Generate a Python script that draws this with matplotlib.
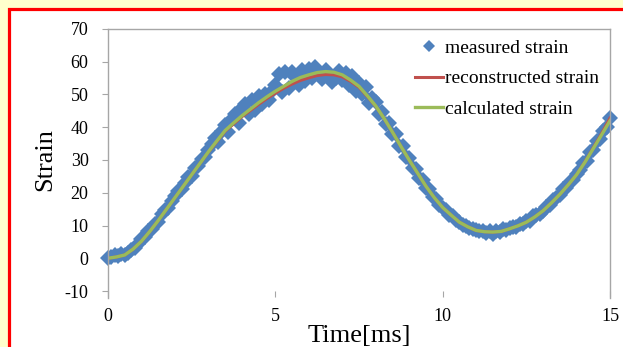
import matplotlib.pyplot as plt
from matplotlib.lines import Line2D
from matplotlib.patches import Rectangle

# 测量应变 (每 0.1 ms 一个点, 从图上读取)
measured_t = [i / 10 for i in range(151)]
measured_strain = [
    0.2, 0.5, 1.0, 0.8, 1.3, 1.0, 1.6, 2.4, 3.2, 4.4,
    5.8, 6.4, 8.2, 9.0, 10.6, 11.2, 13.4, 14.6, 15.4, 17.6,
    18.9, 20.6, 21.0, 22.9, 24.8, 25.2, 27.6, 28.1, 30.4, 31.0,
    33.2, 34.8, 36.8, 35.6, 38.9, 40.8, 38.6, 42.4, 44.0, 41.2,
    45.8, 47.0, 44.0, 48.4, 45.2, 49.6, 47.0, 50.2, 48.3, 51.0,
    53.0, 56.4, 50.8, 57.0, 52.0, 56.8, 55.2, 53.0, 57.6, 54.2,
    57.8, 55.0, 58.4, 56.0, 54.8, 57.6, 55.2, 53.8, 55.0, 57.2,
    54.4, 56.6, 52.8, 55.6, 51.0, 53.6, 50.0, 52.4, 47.4, 48.8,
    47.8, 44.0, 44.6, 41.0, 41.4, 38.0, 37.8, 34.2, 34.4, 31.0,
    30.6, 27.6, 27.4, 24.4, 24.0, 21.6, 21.0, 18.6, 18.0, 16.2,
    15.2, 14.8, 13.2, 12.9, 11.6, 11.2, 10.2, 10.0, 9.1, 9.0,
    8.6, 8.2, 8.4, 7.8, 8.2, 7.4, 8.2, 8.0, 8.8, 8.6,
    9.2, 9.6, 9.4, 10.4, 10.6, 11.4, 11.4, 12.8, 13.2, 13.4,
    14.4, 15.8, 16.2, 17.8, 18.4, 19.2, 21.0, 21.6, 23.4, 24.0,
    25.8, 26.8, 29.0, 29.8, 32.4, 33.2, 35.8, 36.4, 39.0, 40.2,
    42.8,
]

# 计算应变和重构应变 (每 0.25 ms 一个点)
curve_t = [i / 4 for i in range(61)]
calculated_strain = [
    0.0, 0.4, 1.0, 2.8, 5.2, 8.2, 11.5, 15.0,
    18.5, 22.0, 25.5, 29.0, 32.5, 35.8, 39.0, 41.3,
    43.5, 45.5, 47.5, 49.3, 51.0, 52.5, 54.0, 55.2,
    56.0, 56.7, 57.0, 56.8, 56.0, 54.4, 52.5, 49.6,
    46.5, 42.7, 38.5, 34.2, 30.0, 26.0, 22.0, 18.5,
    15.5, 13.2, 11.0, 9.6, 8.5, 8.1, 8.0, 8.2,
    9.0, 9.9, 11.0, 12.6, 14.5, 16.9, 19.5, 22.4,
    25.5, 29.3, 33.5, 37.7, 42.0,
]
reconstructed_strain = [
    0.0, 0.4, 1.0, 2.8, 5.2, 8.2, 11.5, 15.0,
    18.5, 22.0, 25.5, 29.0, 32.4, 35.6, 38.8, 41.0,
    43.2, 45.1, 47.0, 48.8, 50.4, 51.9, 53.2, 54.3,
    55.1, 55.8, 56.1, 56.0, 55.4, 54.0, 52.2, 49.4,
    46.4, 42.7, 38.5, 34.2, 30.0, 26.0, 22.0, 18.5,
    15.5, 13.2, 11.0, 9.6, 8.5, 8.1, 8.0, 8.2,
    9.0, 9.9, 11.0, 12.6, 14.5, 16.9, 19.5, 22.4,
    25.5, 29.4, 33.7, 38.1, 42.8,
]

x_ticks = [0, 5, 10, 15]
y_ticks = [-10, 0, 10, 20, 30, 40, 50, 60, 70]

plt.rcParams["font.family"] = ["Liberation Serif", "DejaVu Serif"]
plt.rcParams["axes.unicode_minus"] = False

W, H = 623, 347
fig = plt.figure(figsize=(W / 100, H / 100), dpi=100, facecolor="#FFFFCC")

# 红色外框 (左, 上), 内部白色
fig.patches.append(
    Rectangle(
        (8.5 / W, -0.1), (640 - 8.5) / W, 1.1 - 8.5 / H,
        transform=fig.transFigure, facecolor="white",
        edgecolor="#FF0000", linewidth=2.3, zorder=-10,
    )
)

ax = fig.add_axes([108 / W, 1 - 291 / H, (610 - 108) / W, (291 - 29) / H])
ax.set_facecolor("white")
ax.set_zorder(1)

ax.plot(
    measured_t, measured_strain, linestyle="none", marker="D",
    markersize=8.6, color="#4F81BD", markeredgewidth=0, clip_on=False,
)
ax.plot(curve_t, reconstructed_strain, color="#C0504D", linewidth=2.2)
ax.plot(curve_t, calculated_strain, color="#9BBB59", linewidth=2.4)

ax.set_xlim(0, 15)
ax.set_ylim(-10, 70)
ax.set_xticks(x_ticks)
ax.set_yticks(y_ticks)

for side in ("left", "top", "right"):
    ax.spines[side].set_color("#A6A6A6")
    ax.spines[side].set_linewidth(1.0)
ax.spines["bottom"].set_visible(False)
ax.spines["left"].set_bounds(-12, 70)
ax.spines["right"].set_bounds(-12, 70)

ax.tick_params(axis="both", colors="#A6A6A6", length=4, width=0.8,
               labelcolor="black", labelsize=13)
ax.tick_params(axis="y", pad=10)
ax.tick_params(axis="x", pad=8)

ax.set_xlabel("Time[ms]", fontsize=19, labelpad=0)
ax.set_ylabel("Strain", fontsize=19, labelpad=6)

handles = [
    Line2D([], [], linestyle="none", marker="D", markersize=6,
           color="#4F81BD", markeredgewidth=0),
    Line2D([], [], color="#C0504D", linewidth=2.2),
    Line2D([], [], color="#9BBB59", linewidth=2.4),
]
ax.legend(
    handles, ["measured strain", "reconstructed strain", "calculated strain"],
    loc="upper left", bbox_to_anchor=(415 / W, 1 - 39 / H),
    bbox_transform=fig.transFigure, frameon=False, fontsize=14,
    handlelength=1.45, handletextpad=0.1, labelspacing=0.68,
    borderpad=0, borderaxespad=0,
)

fig.savefig("out.png", dpi=100, facecolor=fig.get_facecolor())
